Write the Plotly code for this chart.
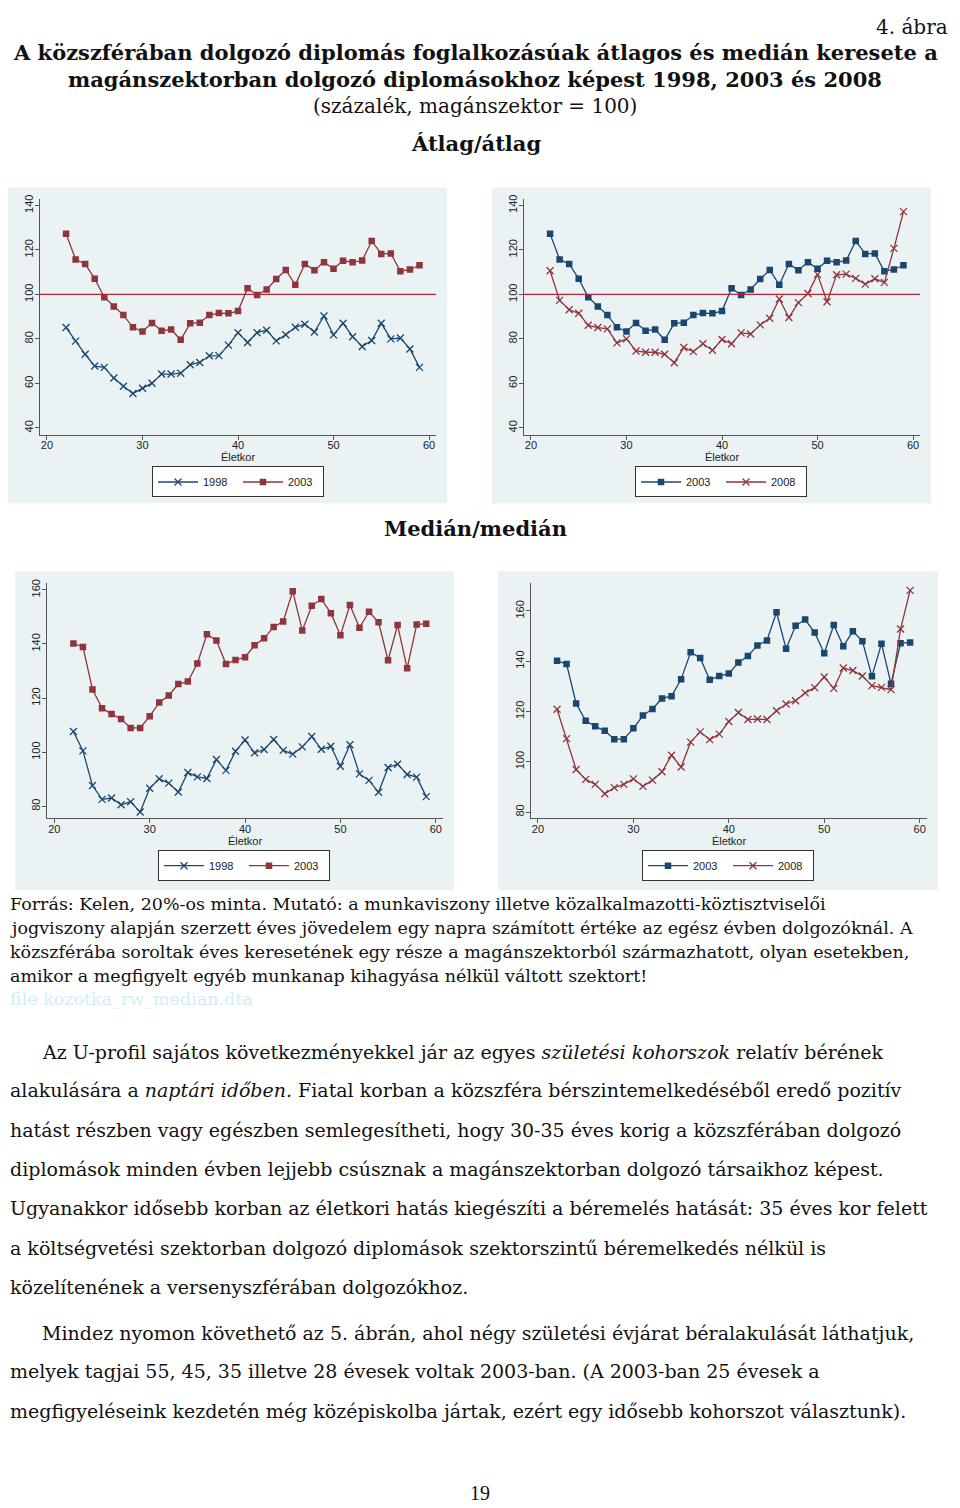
import plotly.graph_objects as go

# The page body adds an 8px margin, so the figure is drawn 8px in and
# reference pixel coordinates are shifted accordingly.
OFF = 8
W, H = 960 - OFF, 1508 - OFF

ages = list(range(22, 60))
avg_1998 = [85.1, 79.0, 73.1, 67.8, 67.2, 62.4, 58.7, 55.5, 57.8, 60.1, 64.2, 64.2, 64.6, 68.4, 69.4, 72.4, 72.5, 77.2, 82.8, 78.4,
            82.8, 83.9, 79.1, 81.9, 85.2, 86.6, 83.1, 90.3, 81.8, 87.0, 81.0, 76.6, 79.3, 87.0, 80.0, 80.4, 75.5, 67.2]
avg_2003 = [127.2, 115.7, 113.7, 107.0, 98.7, 94.6, 90.7, 85.2, 83.3, 87.2, 83.7, 84.2, 79.6, 87.0, 87.3, 90.7, 91.6, 91.5, 92.5, 102.8,
            99.7, 102.2, 106.9, 111.0, 104.3, 113.7, 110.9, 114.5, 111.5, 115.1, 114.5, 115.2, 124.0, 118.2, 118.4, 110.4, 111.2, 113.1]
avg_2008 = [110.6, 97.3, 93.1, 91.5, 86.1, 85.1, 84.5, 78.2, 80.0, 74.6, 74.0, 74.0, 73.1, 69.3, 76.1, 74.3, 77.8, 74.9, 79.7, 77.8,
            82.7, 82.2, 86.3, 89.3, 97.9, 89.6, 96.3, 100.4, 109.0, 96.7, 108.8, 109.1, 107.2, 104.6, 107.0, 105.4, 120.7, 137.2]
med_1998 = [107.7, 100.5, 87.7, 82.6, 83.1, 80.6, 81.7, 77.9, 86.7, 90.2, 88.6, 85.3, 92.5, 90.9, 90.3, 97.3, 93.3, 100.4, 104.5, 99.8,
            101.0, 104.7, 100.7, 99.3, 102.0, 105.8, 101.1, 102.2, 94.8, 102.8, 92.0, 89.6, 85.2, 94.4, 95.6, 91.8, 90.8, 83.6]
med_2003 = [140.2, 138.9, 123.2, 116.3, 114.1, 112.3, 109.0, 109.0, 113.3, 118.4, 121.0, 125.2, 126.1, 132.8, 143.6, 141.3, 132.6, 134.1, 135.1, 139.5,
            142.1, 146.3, 148.3, 159.5, 145.0, 154.1, 156.6, 151.4, 143.2, 154.4, 146.0, 151.9, 148.0, 134.0, 147.0, 131.0, 147.2, 147.5]
med_2008 = [120.9, 109.2, 96.9, 93.0, 91.0, 87.3, 89.7, 91.0, 93.2, 90.2, 92.7, 96.0, 102.6, 97.9, 107.8, 111.9, 108.8, 111.0, 116.0, 119.6,
            116.8, 117.0, 116.8, 120.3, 123.0, 124.3, 127.4, 129.5, 133.7, 129.2, 137.3, 136.3, 134.1, 130.3, 129.6, 128.7, 152.8, 168.2]

x_ticks = [20, 30, 40, 50, 60]
avg_yticks = [40, 60, 80, 100, 120, 140]
med_yticks = [80, 100, 120, 140, 160]
ref_level = 100

NAVY = "#1A476F"
MAROON = "#90353B"
REFRED = "#C0213A"
PANEL = "#EAF2F3"
GRID = "#E6EEF0"
AXC = "#555555"


def px(x):
    return (x - OFF) / W


def py(y):
    return 1 - (y - OFF) / H


fig = go.Figure()

panels = [
    dict(outer=(8, 183, 447, 500), plot=(40, 195, 436, 431), xr=[19.27, 60.73], yr=[37.0, 142.7], yt=avg_yticks,
         leg=(152, 463), ref=True,
         series=[("1998", avg_1998, NAVY, "x"), ("2003", avg_2003, MAROON, "s")]),
    dict(outer=(492, 183, 931, 500), plot=(524, 195, 920, 431), xr=[19.27, 60.73], yr=[37.0, 142.7], yt=avg_yticks,
         leg=(635, 463), ref=True,
         series=[("2003", avg_2003, NAVY, "s"), ("2008", avg_2008, MAROON, "x")]),
    dict(outer=(15, 568, 454, 888), plot=(47, 580, 443, 816), xr=[19.23, 60.76], yr=[75.6, 162.5], yt=med_yticks,
         leg=(158, 848), ref=False,
         series=[("1998", med_1998, NAVY, "x"), ("2003", med_2003, MAROON, "s")]),
    dict(outer=(498, 568, 938, 888), plot=(531, 580, 927, 816), xr=[19.27, 60.77], yr=[77.5, 171.1], yt=med_yticks,
         leg=(642, 848), ref=False,
         series=[("2003", med_2003, NAVY, "s"), ("2008", med_2008, MAROON, "x")]),
]

shapes = []
annotations = []
layout_extra = {}
tickfont = dict(family="Liberation Sans", size=11, color="#222222")

for i, p in enumerate(panels, start=1):
    xa = "x" if i == 1 else f"x{i}"
    ya = "y" if i == 1 else f"y{i}"
    lg = "legend" if i == 1 else f"legend{i}"
    x0, y0, x1, y1 = p["outer"]
    shapes.append(dict(type="rect", xref="paper", yref="paper", x0=px(x0), x1=px(x1), y0=py(y1), y1=py(y0),
                       fillcolor=PANEL, line=dict(width=0), layer="below"))
    for name, vals, col, mk in p["series"]:
        if mk == "s":
            marker = dict(symbol="square", size=6.5, color=col, line=dict(width=0))
        else:
            marker = dict(symbol="x-thin", size=7, color=col, line=dict(width=1.3, color=col))
        fig.add_trace(go.Scatter(x=ages, y=vals, mode="lines+markers", name=name,
                                 line=dict(color=col, width=1.3), marker=marker,
                                 xaxis=xa, yaxis=ya, legend=lg, showlegend=True))
    if p["ref"]:
        shapes.append(dict(type="line", xref=f"{xa} domain", yref=ya, x0=0, x1=1, y0=ref_level, y1=ref_level,
                           line=dict(color=REFRED, width=1.3)))
    l0, t0, r0, b0 = p["plot"]
    xkey = "xaxis" if i == 1 else f"xaxis{i}"
    ykey = "yaxis" if i == 1 else f"yaxis{i}"
    layout_extra[xkey] = dict(domain=[px(l0), px(r0)], range=p["xr"], anchor=ya, tickvals=x_ticks,
                              ticks="outside", ticklen=4, tickcolor=AXC, showline=True, linecolor=AXC,
                              linewidth=1, showgrid=False, zeroline=False, ticklabelstandoff=-4,
                              tickfont=tickfont,
                              title=dict(text="Életkor", standoff=0, font=tickfont))
    layout_extra[ykey] = dict(domain=[py(b0), py(t0)], range=p["yr"], anchor=xa, tickvals=p["yt"],
                              ticks="outside", ticklen=4, tickcolor=AXC, showline=True, linecolor=AXC,
                              linewidth=1, showgrid=True, gridcolor=GRID, gridwidth=1, zeroline=False,
                              tickangle=-90, ticklabelstandoff=-2, tickfont=tickfont)
    lx, ly = p["leg"]
    layout_extra[lg] = dict(x=px(lx), y=py(ly), xanchor="left", yanchor="top", orientation="h",
                            bgcolor="white", bordercolor="#333333", borderwidth=1, itemwidth=40,
                            font=tickfont, tracegroupgap=0, entrywidth=30)


def txt(text, x, y, size, family="DejaVu Serif", xanchor="center", color="#111111"):
    annotations.append(dict(text=text, x=px(x), y=py(y - 2), xref="paper", yref="paper", xanchor=xanchor,
                            yanchor="middle", showarrow=False,
                            font=dict(family=family, size=size, color=color)))


LEFT = OFF  # left text edge (page margin limits how far left text can go)

# Heading: figure label pinned to the very top of the figure
annotations.append(dict(text="4. ábra", x=px(950), y=1.0, xref="paper", yref="paper", xanchor="right",
                        yanchor="top", showarrow=False,
                        font=dict(family="DejaVu Serif", size=20, color="#111111")))
txt("<b>A közszférában dolgozó diplomás foglalkozásúak átlagos és medián keresete a</b>", 475, 50, 21)
txt("<b>magánszektorban dolgozó diplomásokhoz képest 1998, 2003 és 2008</b>", 475, 77, 21)
txt("(százalék, magánszektor = 100)", 475, 103, 20)
txt("<b>Átlag/átlag</b>", 476, 141, 21)
txt("<b>Medián/medián</b>", 475, 527, 21)

# Caption
cap = [
    "Forrás: Kelen, 20%-os minta. Mutató: a munkaviszony illetve közalkalmazotti-köztisztviselői",
    "jogviszony alapján szerzett éves jövedelem egy napra számított értéke az egész évben dolgozóknál. A",
    "közszférába soroltak éves keresetének egy része a magánszektorból származhatott, olyan esetekben,",
    "amikor a megfigyelt egyéb munkanap kihagyása nélkül váltott szektort!",
]
for k, line in enumerate(cap):
    txt(line, LEFT, 904 + 24 * k, 17.5, xanchor="left")
txt("file kozotka_rw_median.dta", LEFT, 999, 17.5, xanchor="left", color="#D3EDF3")

# Body paragraphs
para1 = [
    (40, "Az U-profil sajátos következményekkel jár az egyes <i>születési kohorszok</i> relatív bérének"),
    (LEFT, "alakulására a <i>naptári időben.</i> Fiatal korban a közszféra bérszintemelkedéséből eredő pozitív"),
    (LEFT, "hatást részben vagy egészben semlegesítheti, hogy 30-35 éves korig a közszférában dolgozó"),
    (LEFT, "diplomások minden évben lejjebb csúsznak a magánszektorban dolgozó társaikhoz képest."),
    (LEFT, "Ugyanakkor idősebb korban az életkori hatás kiegészíti a béremelés hatását: 35 éves kor felett"),
    (LEFT, "a költségvetési szektorban dolgozó diplomások szektorszintű béremelkedés nélkül is"),
    (LEFT, "közelítenének a versenyszférában dolgozókhoz."),
]
y_lines1 = [1052, 1091, 1131, 1170, 1209, 1249, 1288]
for (x0, line), yy in zip(para1, y_lines1):
    txt(line, x0, yy, 19, xanchor="left")

para2 = [
    (40, "Mindez nyomon követhető az 5. ábrán, ahol négy születési évjárat béralakulását láthatjuk,"),
    (LEFT, "melyek tagjai 55, 45, 35 illetve 28 évesek voltak 2003-ban. (A 2003-ban 25 évesek a"),
    (LEFT, "megfigyeléseink kezdetén még középiskolba jártak, ezért egy idősebb kohorszot választunk)."),
]
y_lines2 = [1334, 1373, 1413]
for (x0, line), yy in zip(para2, y_lines2):
    txt(line, x0, yy, 19, xanchor="left")

txt("19", 480, 1495, 20, family="Liberation Serif")

fig.update_layout(width=W, height=H, margin=dict(l=0, r=0, t=0, b=0),
                  paper_bgcolor="white", plot_bgcolor="white",
                  shapes=shapes, annotations=annotations, **layout_extra)

fig.write_html("out.html")
